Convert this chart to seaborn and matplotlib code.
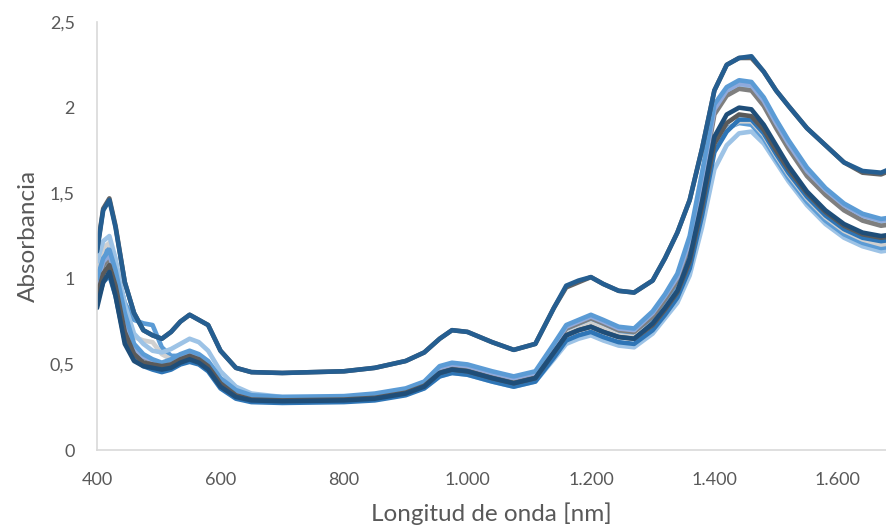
import matplotlib
matplotlib.use("Agg")
import matplotlib.pyplot as plt
import seaborn as sns
import pandas as pd

# Wavelength grid (nm) shared by every spectrum
wavelength = [400, 410, 420, 430, 445, 460, 475, 490, 505, 520,
              535, 550, 565, 580, 600, 625, 650, 700, 800, 850,
              900, 930, 955, 975, 1000, 1040, 1075, 1110, 1140, 1160,
              1180, 1200, 1220, 1245, 1270, 1300, 1320, 1340, 1360, 1380,
              1400, 1420, 1440, 1460, 1480, 1500, 1520, 1550, 1580, 1610,
              1640, 1670, 1690]

# Absorbance spectra
m01 = [0.93, 1.05, 1.09, 0.97, 0.70, 0.57, 0.52, 0.50, 0.48, 0.50,
       0.53, 0.55, 0.53, 0.49, 0.39, 0.33, 0.30, 0.29, 0.29, 0.30,
       0.33, 0.36, 0.43, 0.45, 0.44, 0.40, 0.37, 0.40, 0.53, 0.62,
       0.65, 0.67, 0.64, 0.61, 0.60, 0.68, 0.77, 0.86, 1.02, 1.30,
       1.64, 1.78, 1.85, 1.86, 1.79, 1.68, 1.57, 1.43, 1.32, 1.24,
       1.19, 1.16, 1.17]
m02 = [1.02, 1.15, 1.19, 1.07, 0.86, 0.76, 0.74, 0.73, 0.60, 0.55,
       0.55, 0.57, 0.55, 0.51, 0.41, 0.34, 0.31, 0.30, 0.305, 0.32,
       0.35, 0.39, 0.47, 0.49, 0.48, 0.44, 0.41, 0.44, 0.59, 0.69,
       0.72, 0.75, 0.72, 0.68, 0.67, 0.76, 0.85, 0.95, 1.13, 1.45,
       1.80, 1.88, 1.91, 1.90, 1.82, 1.70, 1.59, 1.45, 1.34, 1.26,
       1.21, 1.18, 1.19]
m03 = [1.07, 1.18, 1.21, 1.08, 0.80, 0.66, 0.64, 0.63, 0.56, 0.53,
       0.53, 0.55, 0.53, 0.49, 0.39, 0.33, 0.30, 0.29, 0.295, 0.31,
       0.34, 0.38, 0.46, 0.48, 0.47, 0.43, 0.40, 0.43, 0.58, 0.68,
       0.71, 0.74, 0.71, 0.67, 0.66, 0.74, 0.83, 0.93, 1.11, 1.42,
       1.78, 1.87, 1.92, 1.92, 1.84, 1.72, 1.61, 1.47, 1.36, 1.28,
       1.23, 1.20, 1.21]
m04 = [0.86, 0.98, 1.02, 0.90, 0.64, 0.53, 0.49, 0.47, 0.455, 0.47,
       0.50, 0.515, 0.50, 0.46, 0.36, 0.30, 0.28, 0.275, 0.28, 0.29,
       0.32, 0.36, 0.43, 0.45, 0.44, 0.40, 0.37, 0.40, 0.54, 0.64,
       0.67, 0.69, 0.66, 0.63, 0.62, 0.70, 0.79, 0.89, 1.06, 1.37,
       1.74, 1.86, 1.93, 1.93, 1.85, 1.73, 1.62, 1.48, 1.37, 1.29,
       1.24, 1.22, 1.23]
m05 = [1.10, 1.22, 1.25, 1.12, 0.85, 0.68, 0.62, 0.58, 0.57, 0.59,
       0.62, 0.65, 0.63, 0.58, 0.46, 0.37, 0.33, 0.31, 0.31, 0.325,
       0.355, 0.395, 0.48, 0.50, 0.49, 0.45, 0.42, 0.45, 0.61, 0.72,
       0.75, 0.78, 0.75, 0.71, 0.70, 0.79, 0.89, 1.00, 1.21, 1.57,
       1.98, 2.09, 2.13, 2.12, 2.03, 1.90, 1.78, 1.62, 1.51, 1.42,
       1.36, 1.33, 1.34]
m06 = [0.95, 1.08, 1.12, 1.00, 0.74, 0.59, 0.54, 0.52, 0.50, 0.51,
       0.54, 0.56, 0.54, 0.50, 0.40, 0.33, 0.30, 0.295, 0.30, 0.315,
       0.345, 0.385, 0.47, 0.49, 0.48, 0.44, 0.41, 0.44, 0.60, 0.71,
       0.74, 0.77, 0.74, 0.70, 0.69, 0.78, 0.88, 0.99, 1.20, 1.55,
       1.96, 2.07, 2.11, 2.10, 2.01, 1.88, 1.76, 1.60, 1.49, 1.40,
       1.34, 1.31, 1.32]
m07 = [0.98, 1.10, 1.14, 1.02, 0.76, 0.60, 0.545, 0.525, 0.505, 0.52,
       0.55, 0.57, 0.55, 0.51, 0.41, 0.34, 0.31, 0.30, 0.305, 0.32,
       0.35, 0.39, 0.48, 0.50, 0.49, 0.45, 0.42, 0.45, 0.61, 0.72,
       0.75, 0.78, 0.75, 0.71, 0.70, 0.80, 0.90, 1.01, 1.22, 1.58,
       1.99, 2.10, 2.14, 2.13, 2.04, 1.91, 1.79, 1.63, 1.52, 1.43,
       1.37, 1.34, 1.35]
m08 = [1.00, 1.12, 1.17, 1.05, 0.80, 0.62, 0.56, 0.53, 0.51, 0.53,
       0.56, 0.58, 0.56, 0.52, 0.42, 0.35, 0.32, 0.31, 0.315, 0.33,
       0.36, 0.40, 0.49, 0.51, 0.50, 0.46, 0.43, 0.46, 0.62, 0.73,
       0.76, 0.79, 0.76, 0.72, 0.71, 0.81, 0.91, 1.03, 1.25, 1.62,
       2.02, 2.12, 2.16, 2.15, 2.06, 1.93, 1.81, 1.65, 1.53, 1.44,
       1.38, 1.35, 1.36]
m09 = [0.90, 1.03, 1.08, 0.96, 0.69, 0.56, 0.51, 0.50, 0.49, 0.50,
       0.53, 0.55, 0.53, 0.49, 0.39, 0.32, 0.295, 0.29, 0.295, 0.305,
       0.335, 0.375, 0.45, 0.47, 0.46, 0.42, 0.39, 0.42, 0.57, 0.67,
       0.70, 0.72, 0.69, 0.66, 0.65, 0.73, 0.82, 0.92, 1.10, 1.42,
       1.79, 1.91, 1.96, 1.95, 1.87, 1.75, 1.64, 1.50, 1.39, 1.31,
       1.26, 1.24, 1.25]
m10 = [0.83, 0.98, 1.04, 0.90, 0.62, 0.52, 0.49, 0.48, 0.47, 0.48,
       0.51, 0.53, 0.51, 0.47, 0.37, 0.31, 0.29, 0.285, 0.29, 0.30,
       0.33, 0.37, 0.45, 0.47, 0.46, 0.42, 0.39, 0.42, 0.57, 0.67,
       0.70, 0.72, 0.69, 0.66, 0.65, 0.74, 0.83, 0.93, 1.12, 1.45,
       1.83, 1.96, 2.00, 1.99, 1.90, 1.78, 1.66, 1.51, 1.40, 1.32,
       1.27, 1.25, 1.26]
m11 = [1.17, 1.41, 1.47, 1.31, 0.98, 0.80, 0.70, 0.67, 0.65, 0.69,
       0.75, 0.79, 0.76, 0.73, 0.58, 0.48, 0.455, 0.45, 0.46, 0.48,
       0.52, 0.57, 0.65, 0.70, 0.69, 0.63, 0.585, 0.62, 0.83, 0.95,
       0.98, 1.01, 0.97, 0.93, 0.92, 0.99, 1.12, 1.27, 1.46, 1.76,
       2.10, 2.25, 2.29, 2.29, 2.21, 2.10, 2.01, 1.88, 1.78, 1.68,
       1.62, 1.61, 1.64]
m12 = [1.16, 1.40, 1.46, 1.30, 0.98, 0.80, 0.70, 0.67, 0.65, 0.69,
       0.75, 0.79, 0.76, 0.73, 0.58, 0.48, 0.455, 0.45, 0.46, 0.48,
       0.52, 0.57, 0.65, 0.70, 0.69, 0.63, 0.585, 0.62, 0.83, 0.96,
       0.99, 1.01, 0.97, 0.93, 0.92, 0.99, 1.12, 1.27, 1.46, 1.76,
       2.10, 2.25, 2.29, 2.30, 2.21, 2.10, 2.01, 1.88, 1.78, 1.68,
       1.63, 1.62, 1.65]

spectra = {
    "M01": m01, "M02": m02, "M03": m03, "M04": m04, "M05": m05, "M06": m06,
    "M07": m07, "M08": m08, "M09": m09, "M10": m10, "M11": m11, "M12": m12,
}
colors = {
    "M01": "#9dc3e6", "M02": "#5b9bd5", "M03": "#d0d0d0", "M04": "#2e75b6",
    "M05": "#9dc3e6", "M06": "#7f7f7f", "M07": "#8faadc", "M08": "#5b9bd5",
    "M09": "#5a5a5a", "M10": "#1f4e79", "M11": "#636363", "M12": "#255e91",
}

x_ticks = [400, 600, 800, 1000, 1200, 1400, 1600]
x_tick_labels = ["400", "600", "800", "1.000", "1.200", "1.400", "1.600"]
y_ticks = [0, 0.5, 1, 1.5, 2, 2.5]
y_tick_labels = ["0", "0,5", "1", "1,5", "2", "2,5"]

rows = []
for name, values in spectra.items():
    for wl, a in zip(wavelength, values):
        rows.append({"serie": name, "wl": wl, "abs": a})
df = pd.DataFrame(rows)

sns.set_theme(style="white")
plt.rcParams["font.family"] = ["Lato", "DejaVu Sans"]

fig = plt.figure(figsize=(8.86, 5.31), dpi=100)
ax = fig.add_axes([0.1095, 0.1525, 0.8905, 0.806])

sns.lineplot(data=df, x="wl", y="abs", hue="serie", hue_order=list(spectra.keys()),
             palette=colors, linewidth=3.3, legend=False, sort=False,
             estimator=None, ax=ax, solid_capstyle="round", solid_joinstyle="round")

ax.set_xlim(400, 1678)
ax.set_ylim(0, 2.5)
ax.set_xticks(x_ticks)
ax.set_xticklabels(x_tick_labels)
ax.set_yticks(y_ticks)
ax.set_yticklabels(y_tick_labels)
ax.tick_params(axis="x", length=0, pad=16, labelsize=13, labelcolor="#595959")
ax.tick_params(axis="y", length=0, pad=16, labelsize=13, labelcolor="#595959")

for side in ("top", "right"):
    ax.spines[side].set_visible(False)
for side in ("left", "bottom"):
    ax.spines[side].set_color("#d9d9d9")
    ax.spines[side].set_linewidth(1.2)

ax.set_xlabel("Longitud de onda [nm]", fontsize=17.5, color="#595959", labelpad=10)
ax.set_ylabel("Absorbancia", fontsize=17.5, color="#595959", labelpad=8)

fig.savefig("out.png", dpi=100)
